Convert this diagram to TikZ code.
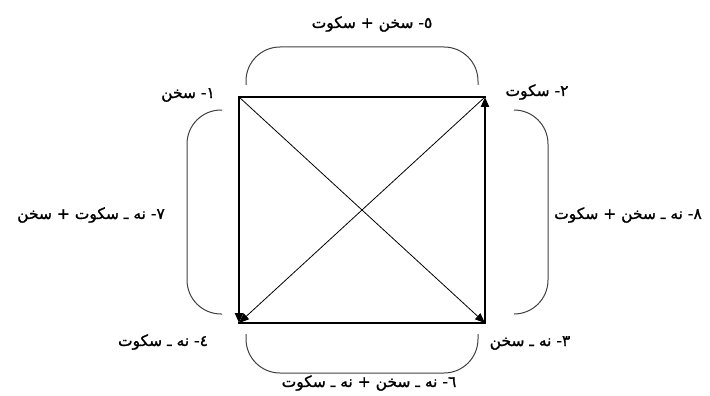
\documentclass[tikz,border=0pt]{standalone}
\usepackage{fontspec}
\newfontfamily\arabicfont[Script=Arabic,FakeBold=1.2]{DejaVu Sans}
\TeXXeTstate=1
\usetikzlibrary{arrows.meta}
\begin{document}
\begin{tikzpicture}[x=1pt,y=-1pt,
  edge/.style={line width=2pt,line cap=rect},
  thickarrow/.style={line width=2.2pt,-{Triangle[length=10pt,width=8pt]}},
  diag/.style={line width=0.8pt,-{Triangle[length=10pt,width=8pt]}},
  bracket/.style={line width=1pt,draw=black!75,rounded corners=34pt},
  lbl/.style={font=\arabicfont\fontsize{15.5}{18}\selectfont,inner sep=0pt}]
\useasboundingbox (0,0) rectangle (710,396);
\coordinate (A) at (239,97);
\coordinate (B) at (485,97);
\coordinate (C) at (485,323);
\coordinate (D) at (239,323);
% square
\draw[edge] (A) -- (B);
\draw[edge] (D) -- (C);
\draw[thickarrow] (A) -- (D);
\draw[thickarrow] (C) -- (B);
\draw[diag] (A) -- (C);
\draw[diag] (B) -- (D);
% brackets
\draw[bracket] (246,85) -- (246,47) -- (478,47) -- (478,85);
\draw[bracket] (246,334) -- (246,373) -- (478,373) -- (478,334);
\draw[bracket] (222,110) -- (187,110) -- (187,314) -- (222,314);
\draw[bracket] (514,110) -- (548,110) -- (548,314) -- (514,314);
% labels
\node[lbl] (l1) at (188,95) {\beginR ١- سخن\endR};
\node[lbl] (l2) at (537,92) {\beginR ٢- سکوت\endR};
\node[lbl] (l3) at (530,343) {\beginR ٣- نه ـ سخن\endR};
\node[lbl] (l4) at (163,342) {\beginR ٤- نه ـ سکوت\endR};
\node[lbl] (l5) at (372,24) {\beginR ٥- سخن + سکوت\endR};
\node[lbl] (l6) at (369,383) {\beginR ٦- نه ـ سخن + نه ـ سکوت\endR};
\node[lbl] (l7) at (91,215) {\beginR ٧- نه ـ سکوت + سخن\endR};
\node[lbl] (l8) at (628,215) {\beginR ٨- نه ـ سخن + سکوت\endR};
\end{tikzpicture}
\end{document}
